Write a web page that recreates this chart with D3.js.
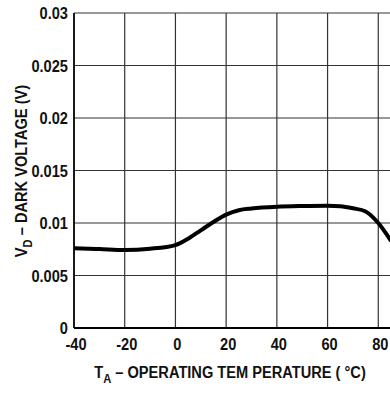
<!DOCTYPE html>
<html>
<head>
<meta charset="utf-8">
<script src="https://cdn.jsdelivr.net/npm/d3@7"></script>
<style>
  body { margin: 0; background: #fff; }
  svg { display: block; }
  text { font-family: "Liberation Sans", Arial, sans-serif; font-weight: bold; fill: #111; }
</style>
</head>
<body>
<div id="chart"></div>
<script>
// curve: temperature (°C) vs dark voltage (V)
const temps = [-40, -30, -20, -10, 0, 5, 10, 15, 20, 25, 30, 40, 50, 60, 65, 70, 75, 80, 85];
const volts = [0.0076, 0.00752, 0.00743, 0.00755, 0.0079, 0.0085, 0.0093, 0.0101, 0.0108, 0.01122, 0.01138, 0.01155, 0.01162, 0.01165, 0.0116, 0.0114, 0.0111, 0.0100, 0.0083];
const xTicks = [-40, -20, 0, 20, 40, 60, 80];
const yTicks = [0, 0.005, 0.01, 0.015, 0.02, 0.025, 0.03];

const W = 390, H = 393;
const margin = { left: 74, top: 13, bottom: 65 };
const x0 = margin.left, y0 = H - margin.bottom;
const SX = 0.86; // condensed look of the original lettering

const svg = d3.select("#chart").append("svg")
    .attr("width", W).attr("height", H);

// x spans past the right edge, the original is cut off there
const x = d3.scaleLinear().domain([-40, 100]).range([x0, x0 + 355]);
const y = d3.scaleLinear().domain([0, 0.03]).range([y0, margin.top]);

const grid = svg.append("g");
grid.selectAll(".vg").data(xTicks.slice(1))
    .enter().append("line")
    .attr("x1", d => x(d)).attr("x2", d => x(d))
    .attr("y1", y(0.03)).attr("y2", y(0))
    .attr("stroke", "#333").attr("stroke-width", 1.2);
grid.selectAll(".hg").data(yTicks.slice(1))
    .enter().append("line")
    .attr("x1", x0).attr("x2", W)
    .attr("y1", d => y(d)).attr("y2", d => y(d))
    .attr("stroke", "#333").attr("stroke-width", 1.2);

// frame: left + bottom
svg.append("line").attr("x1", x0).attr("x2", x0).attr("y1", y(0.03)).attr("y2", y0)
    .attr("stroke", "#000").attr("stroke-width", 1.8);
svg.append("line").attr("x1", x0).attr("x2", W).attr("y1", y0).attr("y2", y0)
    .attr("stroke", "#000").attr("stroke-width", 1.8);

// tick labels
svg.selectAll(".yl").data(yTicks).enter().append("g")
    .attr("transform", d => `translate(${x0 - 6},${y(d)}) scale(${SX},1)`)
    .append("text").attr("dy", "0.36em")
    .attr("text-anchor", "end").attr("font-size", 17)
    .text(d => d3.format("")(d));
svg.selectAll(".xl").data(xTicks).enter().append("g")
    .attr("transform", d => `translate(${x(d) + 2},${y0 + 22}) scale(${SX},1)`)
    .append("text")
    .attr("text-anchor", "middle").attr("font-size", 17)
    .text(d => d);

// curve
const line = d3.line().x((d, i) => x(temps[i])).y(d => y(d)).curve(d3.curveMonotoneX);
svg.append("path").datum(volts)
    .attr("d", line).attr("fill", "none")
    .attr("stroke", "#000").attr("stroke-width", 4).attr("stroke-linejoin", "round");

// axis titles
const xt = svg.append("g").attr("transform", `translate(230,378) scale(${SX},1)`)
    .append("text").attr("text-anchor", "middle").attr("font-size", 17);
xt.append("tspan").text("T");
xt.append("tspan").attr("dy", 5).attr("font-size", 13).text("A");
xt.append("tspan").attr("dy", -5).text(" – OPERATING TEM PERATURE ( °C)");

const yt = svg.append("g")
    .attr("transform", `translate(27,171) rotate(-90) scale(${SX},1)`)
    .append("text").attr("text-anchor", "middle").attr("font-size", 17);
yt.append("tspan").text("V");
yt.append("tspan").attr("dy", 5).attr("font-size", 13).text("D");
yt.append("tspan").attr("dy", -5).text(" – DARK VOLTAGE (V)");
</script>
</body>
</html>
